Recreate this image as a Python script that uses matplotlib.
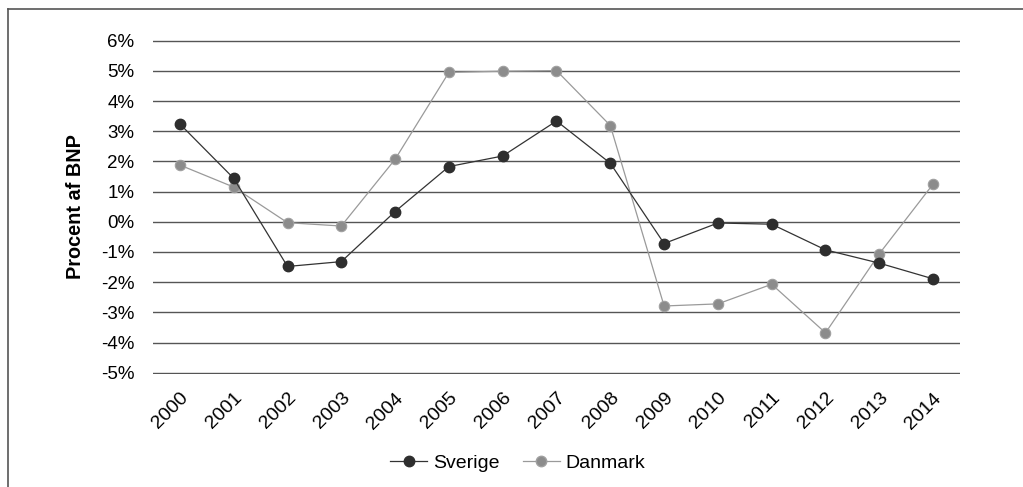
import matplotlib
matplotlib.use("Agg")
import matplotlib.pyplot as plt
from matplotlib.lines import Line2D
import matplotlib.transforms as mtransforms

years = [str(y) for y in range(2000, 2015)]
sverige = [3.24, 1.44, -1.48, -1.32, 0.34, 1.83, 2.18, 3.34, 1.94, -0.72, -0.04, -0.08, -0.93, -1.37, -1.89]
danmark = [1.88, 1.15, -0.03, -0.14, 2.07, 4.95, 4.99, 5.01, 3.19, -2.79, -2.72, -2.07, -3.68, -1.06, 1.25]
yticks = list(range(-5, 7))
ytick_labels = [f"{v}%" for v in yticks]

plt.rcParams['font.family'] = ['Liberation Sans', 'DejaVu Sans']

W, H = 1023, 487
fig = plt.figure(figsize=(W / 100, H / 100), dpi=100)
# plot area: x 153..960 px, y (6.05 -> 39.2 px) .. (-5.05 -> 374.2 px)
top_px, bot_px = 39.2, 374.2
ax = fig.add_axes([153 / W, 1 - bot_px / H, (960 - 153) / W, (bot_px - top_px) / H])

x = list(range(len(years)))
ax.plot(x, danmark, color='#9a9a9a', lw=0.9, marker='o', markersize=7.5,
        markerfacecolor='#8c8c8c', markeredgecolor='#a0a0a0', markeredgewidth=0.8,
        label='Danmark', zorder=3)
ax.plot(x, sverige, color='#333333', lw=0.9, marker='o', markersize=7.5,
        markerfacecolor='#2e2e2e', markeredgecolor='#2e2e2e',
        label='Sverige', zorder=4)

ax.set_xlim(-0.5, len(years) - 0.5)
ax.set_ylim(-5.05, 6.05)
ax.set_yticks(yticks)
ax.set_yticklabels(ytick_labels, fontsize=13.5)
ax.set_xticks(x)
ax.set_xticklabels(years, rotation=45, ha='right', rotation_mode='anchor', fontsize=14)
offset = mtransforms.ScaledTranslation(2 / 100, 0, fig.dpi_scale_trans)
for lbl in ax.get_xticklabels():
    lbl.set_transform(lbl.get_transform() + offset)
ax.tick_params(axis='y', length=0, pad=13.5)
ax.tick_params(axis='x', length=0, pad=11)
ax.grid(axis='y', color='#555555', lw=1)
ax.set_axisbelow(True)
for s in ax.spines.values():
    s.set_visible(False)
ax.set_ylabel('Procent af BNP', fontsize=14.3, fontweight='bold')
ax.yaxis.set_label_coords((85 - 153) / (960 - 153), 0.5)

handles = [Line2D([0], [0], color='#333333', lw=0.9, marker='o', markersize=7.5,
                  markerfacecolor='#2e2e2e', markeredgecolor='#2e2e2e'),
           Line2D([0], [0], color='#9a9a9a', lw=0.9, marker='o', markersize=7.5,
                  markerfacecolor='#8c8c8c', markeredgecolor='#a0a0a0')]
fig.legend(handles, ['Sverige', 'Danmark'], loc='center', bbox_to_anchor=(0.506, 0.049),
           ncol=2, frameon=False, fontsize=14, handlelength=1.9, handletextpad=0.3,
           columnspacing=1.2, borderpad=0, borderaxespad=0)

# partial outer frame (top and left)
fig.add_artist(Line2D([8 / W, 1.0], [1 - 9 / H, 1 - 9 / H], color='#555555', lw=1.2,
                      transform=fig.transFigure))
fig.add_artist(Line2D([8 / W, 8 / W], [1 - 9 / H, 0.0], color='#555555', lw=1.2,
                      transform=fig.transFigure))

fig.savefig('out.png', dpi=100)
